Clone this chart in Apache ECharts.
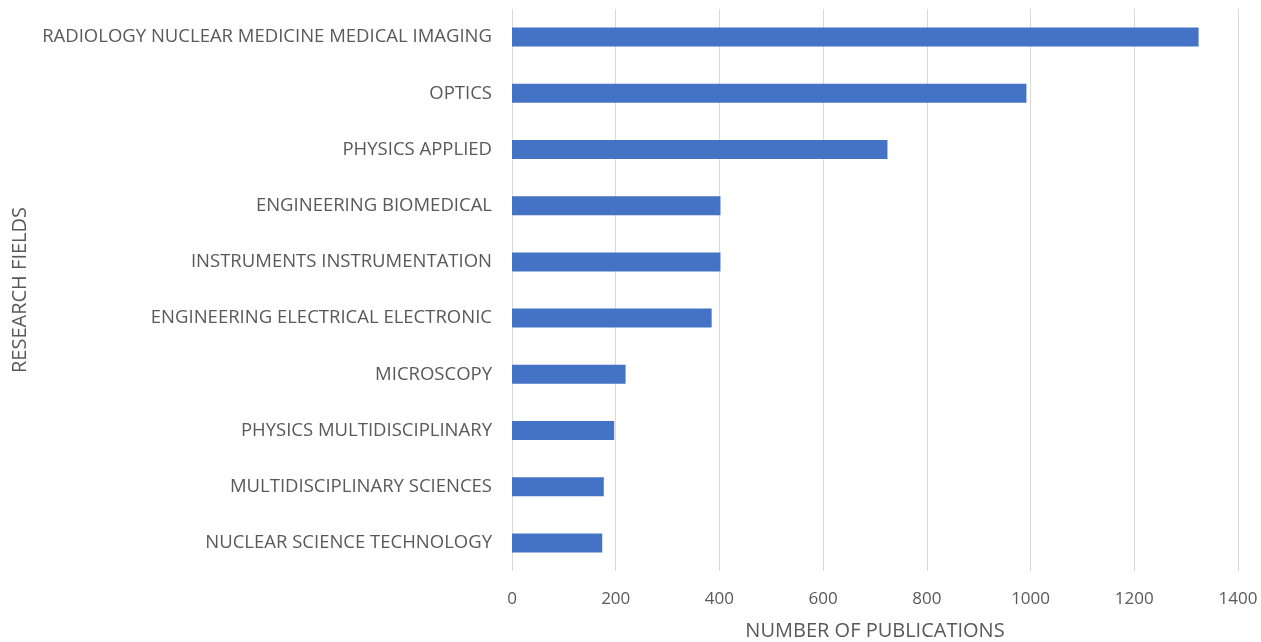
<!DOCTYPE html>
<html><head><meta charset="utf-8">
<script src="https://cdn.jsdelivr.net/npm/echarts@6/dist/echarts.min.js"></script>
<style>html,body{margin:0;padding:0;background:#fff}#c{width:1261px;height:642px}</style>
</head><body><div id="c"></div>
<script>
const categories = [
  "RADIOLOGY NUCLEAR MEDICINE MEDICAL IMAGING",
  "OPTICS",
  "PHYSICS APPLIED",
  "ENGINEERING BIOMEDICAL",
  "INSTRUMENTS INSTRUMENTATION",
  "ENGINEERING ELECTRICAL ELECTRONIC",
  "MICROSCOPY",
  "PHYSICS MULTIDISCIPLINARY",
  "MULTIDISCIPLINARY SCIENCES",
  "NUCLEAR SCIENCE TECHNOLOGY"
];
const publications = [1324, 992, 724, 402, 402, 385, 219, 197, 177, 174];
const xTicks = [0, 200, 400, 600, 800, 1000, 1200, 1400];

const chart = echarts.init(document.getElementById('c'));
const font = '"Open Sans", sans-serif';
chart.setOption({
  animation: false,
  grid: {left: 512, right: 23, top: 9, bottom: 71, containLabel: false, outerBoundsMode: 'none'},
  xAxis: {
    type: 'value', min: xTicks[0], max: xTicks[xTicks.length-1], interval: 200,
    name: 'NUMBER OF PUBLICATIONS', nameLocation: 'middle', nameGap: 50,
    nameTextStyle: {color: '#595959', fontSize: 20, fontFamily: font},
    axisLine: {show: false}, axisTick: {show: false},
    axisLabel: {color: '#595959', fontSize: 17, fontFamily: font, margin: 20, formatter: v => String(v)},
    splitLine: {lineStyle: {color: '#d9d9d9', width: 1}}
  },
  yAxis: {
    type: 'category', data: categories, inverse: true,
    name: 'RESEARCH FIELDS', nameLocation: 'middle', nameGap: 482, nameRotate: 90,
    nameTextStyle: {color: '#595959', fontSize: 20, fontFamily: font},
    axisLine: {show: false}, axisTick: {show: false},
    axisLabel: {color: '#595959', fontSize: 18.5, fontFamily: font, margin: 20},
    splitLine: {show: false}
  },
  series: [{
    type: 'bar', data: publications, barWidth: 19,
    itemStyle: {color: '#4472c4'}
  }]
});
</script></body></html>
